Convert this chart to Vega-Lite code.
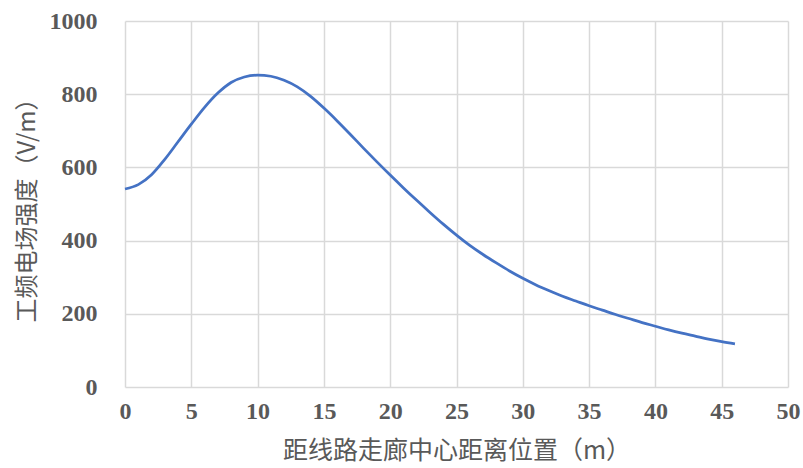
{
  "$schema": "https://vega.github.io/schema/vega-lite/v6.json",
  "width": 663,
  "height": 366,
  "autosize": {"type": "none"},
  "padding": {"left": 125, "top": 21, "right": 15, "bottom": 81},
  "background": "white",
  "config": {
    "view": {"stroke": null},
    "axis": {
      "domain": false,
      "ticks": false,
      "grid": true,
      "gridColor": "#d9d9d9",
      "gridWidth": 1.5,
      "labelFlush": false,
      "labelFont": "Liberation Serif",
      "labelFontWeight": "bold",
      "labelFontSize": 24,
      "labelColor": "#595959",
      "titleFont": "Noto Sans CJK SC",
      "titleFontWeight": "normal",
      "titleColor": "#595959"
    }
  },
  "data": {
    "values": [
      {"distance": 0, "E": 541},
      {"distance": 1, "E": 553},
      {"distance": 2, "E": 580},
      {"distance": 3, "E": 622},
      {"distance": 4, "E": 670},
      {"distance": 5, "E": 718},
      {"distance": 6, "E": 764},
      {"distance": 7, "E": 803},
      {"distance": 8, "E": 832},
      {"distance": 9, "E": 847},
      {"distance": 10, "E": 852},
      {"distance": 11, "E": 849},
      {"distance": 12, "E": 838},
      {"distance": 13, "E": 820},
      {"distance": 14, "E": 794},
      {"distance": 15, "E": 762},
      {"distance": 16, "E": 727},
      {"distance": 17, "E": 690},
      {"distance": 18, "E": 652},
      {"distance": 19, "E": 615},
      {"distance": 20, "E": 579},
      {"distance": 21, "E": 544},
      {"distance": 22, "E": 510},
      {"distance": 23, "E": 477},
      {"distance": 24, "E": 445},
      {"distance": 25, "E": 415},
      {"distance": 26, "E": 387},
      {"distance": 27, "E": 362},
      {"distance": 28, "E": 339},
      {"distance": 29, "E": 317},
      {"distance": 30, "E": 297},
      {"distance": 31, "E": 279},
      {"distance": 32, "E": 263},
      {"distance": 33, "E": 248},
      {"distance": 34, "E": 235},
      {"distance": 35, "E": 222},
      {"distance": 36, "E": 210},
      {"distance": 37, "E": 198},
      {"distance": 38, "E": 187},
      {"distance": 39, "E": 176},
      {"distance": 40, "E": 166},
      {"distance": 41, "E": 156},
      {"distance": 42, "E": 147},
      {"distance": 43, "E": 139},
      {"distance": 44, "E": 131},
      {"distance": 45, "E": 124},
      {"distance": 46, "E": 118}
    ]
  },
  "mark": {"type": "line", "color": "#4472C4", "strokeWidth": 2.75, "interpolate": "monotone"},
  "encoding": {
    "x": {
      "field": "distance",
      "type": "quantitative",
      "scale": {"domain": [0, 50], "nice": false, "zero": false},
      "axis": {
        "values": [0, 5, 10, 15, 20, 25, 30, 35, 40, 45, 50],
        "format": "d",
        "title": "距线路走廊中心距离位置（m）",
        "titleFontSize": 25,
        "labelPadding": 12,
        "titlePadding": 15
      }
    },
    "y": {
      "field": "E",
      "type": "quantitative",
      "scale": {"domain": [0, 1000], "nice": false},
      "axis": {
        "values": [0, 200, 400, 600, 800, 1000],
        "format": "d",
        "title": "工频电场强度（V/m）",
        "titleFontSize": 24,
        "labelPadding": 28,
        "titlePadding": 10
      }
    }
  }
}
